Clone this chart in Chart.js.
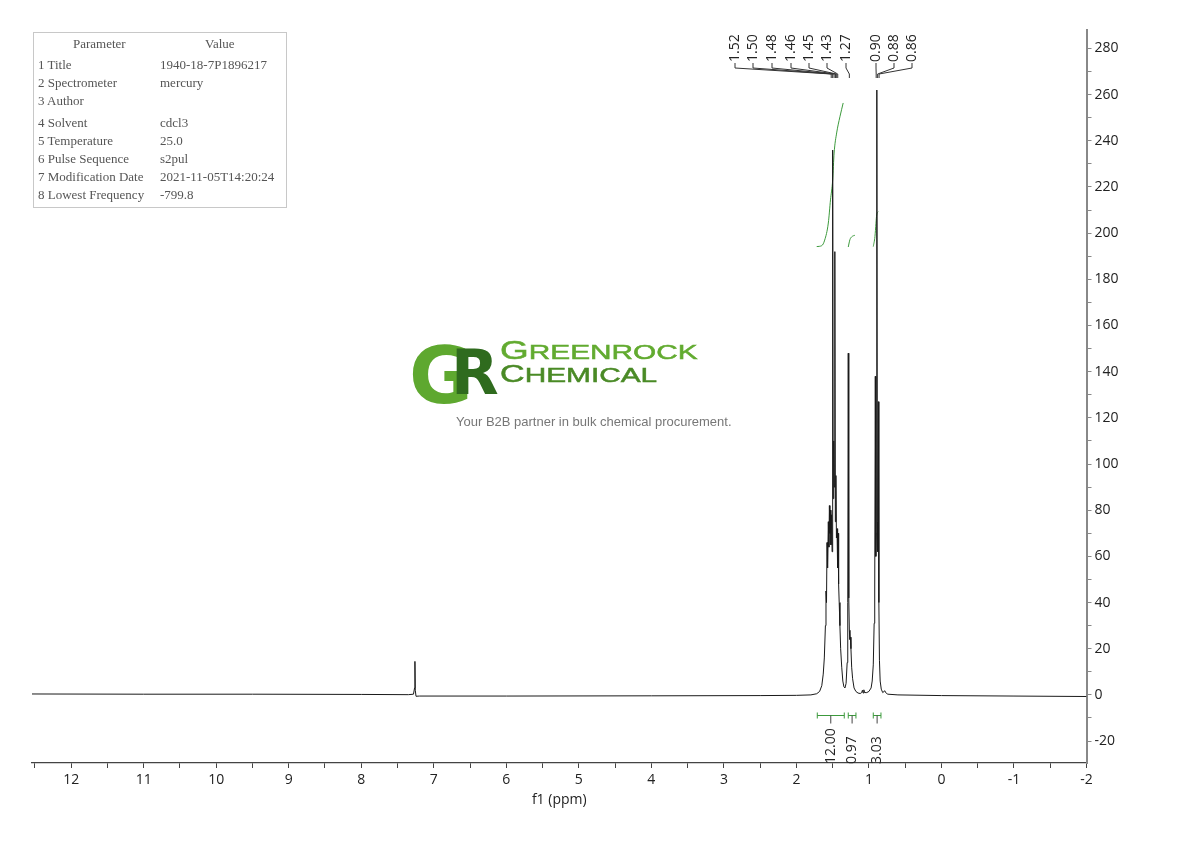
<!DOCTYPE html>
<html>
<head>
<meta charset="utf-8">
<title>1H NMR</title>
<script src="https://cdn.jsdelivr.net/npm/chart.js@4.4.0/dist/chart.umd.min.js"></script>
<style>
  body { margin: 0; background: #fff; }
  #wrap { position: relative; width: 1190px; height: 841px; overflow: hidden; }
  #chart { position: absolute; left: 0; top: 0; }
  .par { position: absolute; left: 33px; top: 32px; width: 252px; height: 174px; border: 1px solid #c8c8c8;
         font-family: "Liberation Serif", serif; font-size: 13px; color: #555; }
  .par div { position: absolute; white-space: nowrap; line-height: 14px; }
  .logo > span { position: absolute; white-space: nowrap; line-height: 1; }
  .word { font-family: "Liberation Sans", sans-serif; -webkit-text-stroke: 0.5px; transform: scaleX(1.42); transform-origin: left; }
</style>
</head>
<body>
<div id="wrap">
  <canvas id="chart" width="1190" height="841"></canvas>
  <div class="par" id="par"></div>
  <div class="logo">
    <span style="left:409px;top:331px;font:bold 78px 'DejaVu Sans';color:#5ea82f;">G</span>
    <span style="left:451px;top:336px;font:bold 62px 'DejaVu Sans';color:#2f6b1e;">R</span>
    <span class="word" style="left:500px;top:337px;font-size:26px;color:#62ab30;">G<span style="font-size:21px;">REENROCK</span></span>
    <span class="word" style="left:500px;top:362px;font-size:24px;color:#4a8a26;">C<span style="font-size:21px;">HEMICAL</span></span>
    <span style="left:456px;top:414px;font:13px 'Liberation Sans';color:#777;">Your B2B partner in bulk chemical procurement.</span>
  </div>
</div>
<script>
// parameter table
const paramNames = ['1 Title', '2 Spectrometer', '3 Author', '4 Solvent', '5 Temperature',
                    '6 Pulse Sequence', '7 Modification Date', '8 Lowest Frequency'];
const paramValues = ['1940-18-7P1896217', 'mercury', '', 'cdcl3', '25.0', 's2pul',
                     '2021-11-05T14:20:24', '-799.8'];

// spectrum (ppm, intensity)
const specPpm = [12.54, 11.0, 9.5, 8.0, 7.35, 7.28, 7.265, 7.26, 7.255, 7.245, 7.2, 6.0, 4.0, 2.5, 2.0,
  1.80, 1.72, 1.68, 1.65, 1.63, 1.615, 1.60, 1.592, 1.585, 1.578, 1.570, 1.560, 1.552, 1.545, 1.538,
  1.530, 1.524, 1.515, 1.508, 1.500, 1.493, 1.485, 1.478, 1.470, 1.463, 1.455, 1.448, 1.440, 1.432,
  1.425, 1.418, 1.410, 1.400, 1.390, 1.375, 1.360, 1.345, 1.330, 1.315, 1.300, 1.292, 1.285, 1.278,
  1.270, 1.262, 1.255, 1.248, 1.238, 1.225, 1.205, 1.18, 1.15, 1.12, 1.10, 1.09, 1.08, 1.07, 1.06,
  1.03, 1.00, 0.97, 0.955, 0.94, 0.928, 0.920, 0.912, 0.905, 0.898, 0.891, 0.884, 0.877, 0.870,
  0.863, 0.855, 0.845, 0.83, 0.81, 0.78, 0.77, 0.74, 0.6, 0.0, -1.0, -2.0];
const specInt = [0.4, 0.3, 0.3, 0.2, 0.1, 0.3, 3, 14.5, 2, -0.6, -0.5, -0.5, -0.4, -0.3, -0.2,
  0.0, 0.5, 1.5, 4, 9, 16, 30, 45, 40, 66, 55, 75, 64, 82, 70,
  80, 65, 78, 62, 236, 85, 110, 90, 192, 75, 95, 68, 72, 55,
  70, 48, 40, 30, 20, 12, 6, 3.5, 3, 5, 14, 40, 148, 42,
  28, 24, 25, 20, 12, 7, 3, 1.5, 0.8, 0.6, 1, 2, 0.8, 2.2, 1,
  1, 1.5, 3, 6, 13, 31, 45, 138, 60, 70, 262, 75, 62, 127,
  40, 15, 6, 2.5, 1, 1.8, 1, 0.3, 0, -0.3, -0.5, -0.7];

// integral curves
const int1Ppm = [1.72, 1.65, 1.61, 1.56, 1.53, 1.50, 1.48, 1.445, 1.40, 1.355];
const int1Val = [194.2, 194.6, 197, 204.4, 214.4, 223, 234.7, 243.4, 250.4, 256.4];
const int2Ppm = [1.285, 1.262, 1.234, 1.193];
const int2Val = [194, 197.2, 198.5, 199.1];
const int3Ppm = [0.940, 0.917, 0.903, 0.893, 0.871];
const int3Val = [194.2, 198.5, 204.3, 207.9, 209.3];

// integration ranges and values
const intFrom = [1.712, 1.285, 0.940];
const intTo = [1.340, 1.179, 0.834];
const intLabel = ['12.00', '0.97', '3.03'];

// peak picking
const peakLabels = [1.52, 1.50, 1.48, 1.46, 1.45, 1.43, 1.27, 0.90, 0.88, 0.86];

// layout
const rowY = [65, 83.3, 101, 123.3, 141, 159, 176.7, 194.7];
const labelX = [735, 753, 772, 791, 809, 827, 846, 876, 894, 912];

const par = document.getElementById('par');
function addCell(text, left, cy) {
  const d = document.createElement('div');
  d.textContent = text;
  d.style.left = (left - 34) + 'px';
  d.style.top = (cy - 7 - 33) + 'px';
  par.appendChild(d);
}
addCell('Parameter', 73, 44);
addCell('Value', 205, 44);
for (let i = 0; i < paramNames.length; i++) {
  addCell(paramNames[i], 38, rowY[i]);
  addCell(paramValues[i], 160, rowY[i]);
}

function pts(xs, ys) { return xs.map((p, i) => ({ x: p, y: ys[i] })); }

const annot = {
  id: 'annot',
  afterDatasetsDraw(chart) {
    const ctx = chart.ctx;
    const x = chart.scales.x, y = chart.scales.y;
    ctx.save();
    ctx.font = '14px "Open Sans"';
    ctx.fillStyle = '#222';
    ctx.strokeStyle = '#333';
    ctx.lineWidth = 1;
    peakLabels.forEach((p, i) => {
      const lx = labelX[i], px = x.getPixelForValue(p);
      ctx.beginPath();
      ctx.moveTo(lx, 63); ctx.lineTo(lx, 68); ctx.lineTo(px, 74); ctx.lineTo(px, 78);
      ctx.stroke();
      ctx.save();
      ctx.translate(lx, 62);
      ctx.rotate(-Math.PI / 2);
      ctx.textAlign = 'left';
      ctx.textBaseline = 'middle';
      ctx.fillText(p.toFixed(2), 0, 0);
      ctx.restore();
    });

    const by = Math.round(y.getPixelForValue(-8.7)) + 0.5;
    intFrom.forEach((f, i) => {
      const a = x.getPixelForValue(f), b = x.getPixelForValue(intTo[i]), m = (a + b) / 2;
      ctx.strokeStyle = '#3c9a3c';
      ctx.beginPath();
      ctx.moveTo(a, by - 3); ctx.lineTo(a, by + 3);
      ctx.moveTo(a, by); ctx.lineTo(b, by);
      ctx.moveTo(b, by - 3); ctx.lineTo(b, by + 3);
      ctx.stroke();
      ctx.strokeStyle = '#444';
      ctx.beginPath();
      ctx.moveTo(m, by); ctx.lineTo(m, by + 8);
      ctx.stroke();
      ctx.save();
      ctx.translate(m, 764);
      ctx.rotate(-Math.PI / 2);
      ctx.textAlign = 'left';
      ctx.textBaseline = 'middle';
      ctx.fillText(intLabel[i], 0, 0);
      ctx.restore();
    });
    ctx.restore();
  }
};

const green = '#3c9a3c';
new Chart(document.getElementById('chart'), {
  type: 'line',
  data: {
    datasets: [
      { data: pts(specPpm, specInt), borderColor: '#1a1a1a', borderWidth: 1 },
      { data: pts(int1Ppm, int1Val), borderColor: green, borderWidth: 1, cubicInterpolationMode: 'monotone' },
      { data: pts(int2Ppm, int2Val), borderColor: green, borderWidth: 1, cubicInterpolationMode: 'monotone' },
      { data: pts(int3Ppm, int3Val), borderColor: green, borderWidth: 1, cubicInterpolationMode: 'monotone' }
    ]
  },
  options: {
    responsive: false,
    animation: false,
    events: [],
    layout: { padding: { left: 32, top: 30, right: 0, bottom: 0 } },
    elements: { point: { radius: 0 }, line: { tension: 0 } },
    plugins: { legend: { display: false }, tooltip: { enabled: false } },
    scales: {
      x: {
        type: 'linear', reverse: true, min: -2, max: 12.54,
        afterFit: s => { s.height = 78; },
        border: { color: '#444', width: 1.3 },
        grid: { drawOnChartArea: false, tickLength: 5, color: '#444' },
        ticks: {
          stepSize: 0.5, includeBounds: false, autoSkip: false, maxRotation: 0, padding: 4,
          color: '#222', font: { family: 'Open Sans', size: 14 },
          callback: v => Number.isInteger(v) ? String(v) : ''
        },
        title: { display: true, text: 'f1 (ppm)', color: '#222',
                 font: { family: 'Open Sans', size: 14 }, padding: { top: 0, bottom: 33 } }
      },
      y: {
        position: 'right', min: -29.5, max: 288,
        afterFit: s => { s.width = 103.5; },
        border: { color: '#888', width: 2 },
        grid: { drawOnChartArea: false, tickLength: 5, color: '#888' },
        ticks: {
          stepSize: 10, includeBounds: false, padding: 3, color: '#222',
          font: { family: 'Open Sans', size: 14 },
          callback: v => v % 20 === 0 ? String(v) : ''
        }
      }
    }
  },
  plugins: [annot]
});
</script>
</body>
</html>
